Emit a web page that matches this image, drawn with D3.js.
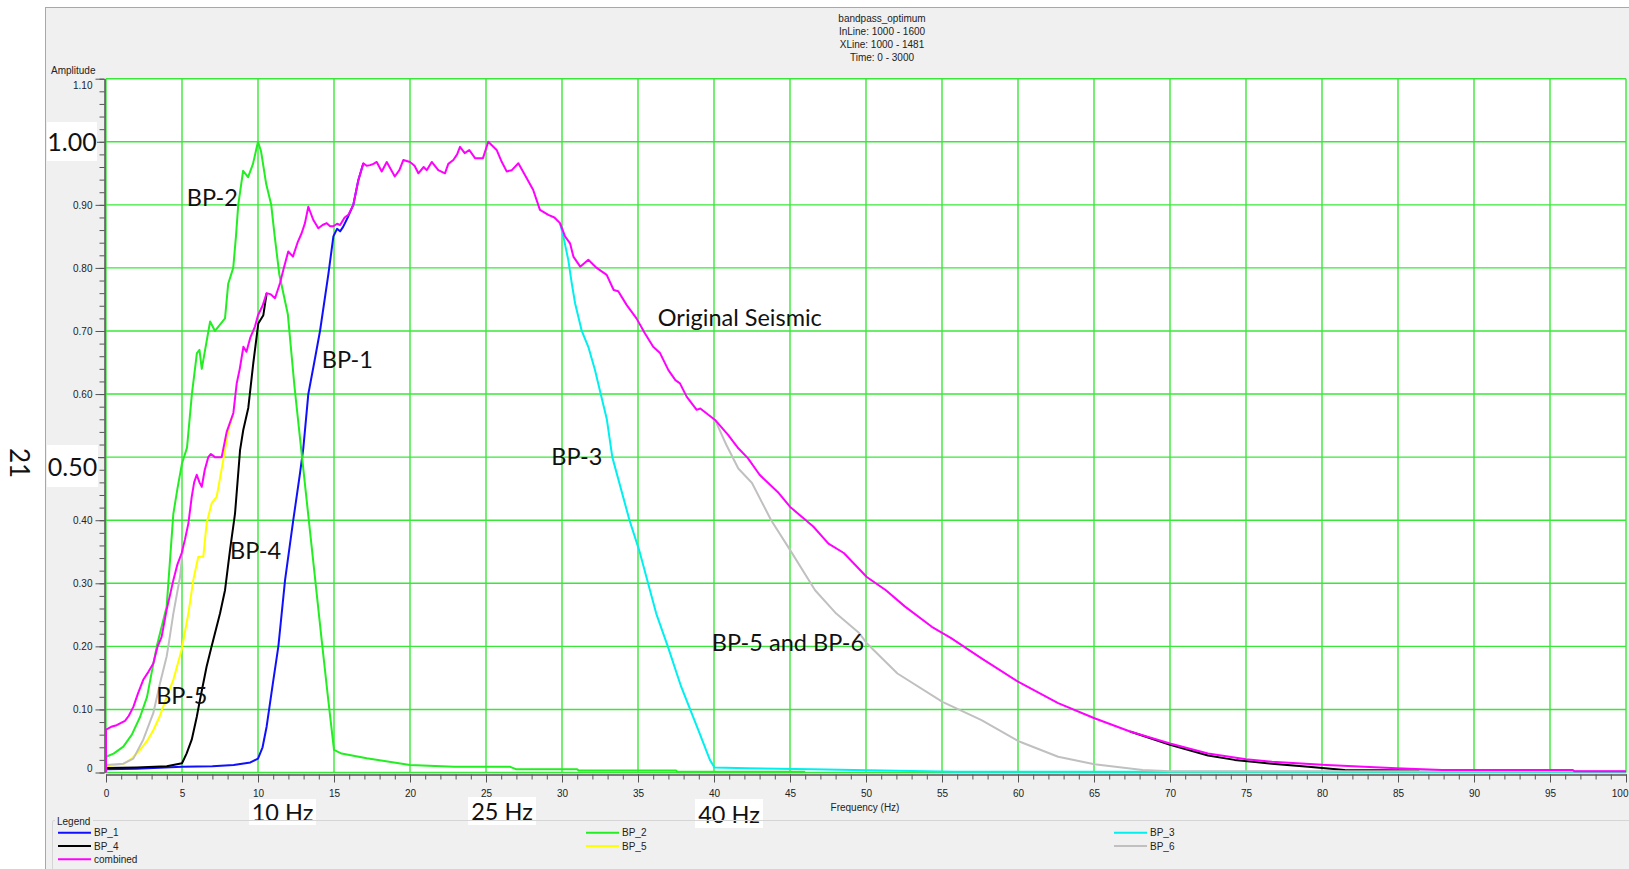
<!DOCTYPE html>
<meta charset="utf-8">
<script src="https://d3js.org/d3.v7.min.js"></script>
<style>
	body{ margin:0; background:#fff; }
	svg{ display:block; }
	.axis text{ font-family:"Liberation Sans", Arial, sans-serif; font-size:10px; fill:#222; }
	.axis path, .axis line{ stroke:#555; }
	.ui{ font-family:"Liberation Sans", Arial, sans-serif; font-size:10px; fill:#222; }
	.note{ font-family:Lato, "Open Sans", sans-serif; font-size:23.5px; fill:#111; }
</style>
<div id="chart"></div>
<script>

// amplitude spectra, [frequency Hz, amplitude]
// null = a gap where the curve hides under "combined"
var bp1 = [[0,0.005],[2,0.006],[5,0.009],[7,0.01],[8.4,0.012],[9.5,0.016],[10,0.022],[10.3,0.04],[10.57,0.073],[11.0,0.145],[11.34,0.2],[11.78,0.305],[12.32,0.4],[12.76,0.474],[12.98,0.514],[13.31,0.6],[13.7,0.65],[14.08,0.7],[14.63,0.79],[14.96,0.85],[15.2,0.862],[15.4,0.858],[15.6,0.865],[15.94,0.882],[16.27,0.9],[16.6,0.939],[16.93,0.966]]

var bp2 = [[0,0.025],[0.5,0.03],[1.14,0.041],[1.7,0.06],[2.24,0.088],[2.7,0.12],[3.0,0.158],[3.34,0.2],[3.99,0.263],[4.43,0.41],[4.7,0.45],[5.0,0.49],[5.33,0.515],[5.65,0.6],[5.98,0.665],[6.15,0.67],[6.3,0.64],[6.85,0.715],[7.17,0.7],[7.5,0.71],[7.83,0.72],[8.04,0.775],[8.37,0.8],[8.55,0.85],[8.7,0.9],[9.02,0.954],[9.35,0.944],[9.67,0.965],[10.0,1.0],[10.2,0.985],[10.54,0.933],[10.87,0.9],[11.1,0.85],[11.4,0.79],[11.96,0.727],[12.4,0.612],[12.83,0.515],[13.5,0.365],[14.19,0.21],[14.6,0.12],[15.0,0.036],[15.5,0.03],[17.15,0.0225],[20,0.012],[22.9,0.009],[26.6,0.009],[27,0.005],[31,0.005],[31.1,0.003],[37.5,0.003],[37.6,0.001],[46,0.001]]

var bp3 = [[29.87,0.871],[30.09,0.85],[30.41,0.813],[30.64,0.776],[30.86,0.744],[31.3,0.7],[31.73,0.675],[32.17,0.638],[32.5,0.605],[32.95,0.56],[33.31,0.5],[34.44,0.4],[35.07,0.353],[36.2,0.252],[36.96,0.2],[37.84,0.136],[38.97,0.067],[39.73,0.02],[40.03,0.008],[42.24,0.0066],[46.4,0.005],[55.84,0.0013],[100,0.001]]

var bp4 = [[0,0.007],[2,0.008],[4,0.01],[5,0.0146],[5.3,0.03],[5.64,0.052],[5.97,0.088],[6.18,0.115],[6.62,0.168],[6.95,0.2],[7.5,0.252],[7.83,0.289],[8.16,0.353],[8.49,0.411],[8.82,0.511],[9.03,0.543],[9.36,0.578],[9.69,0.649],[10.02,0.712],[10.35,0.725],[10.57,0.76],null,[67.37,0.065],[70,0.044],[72.5,0.027],[74.25,0.02],[76.7,0.014],[79.1,0.009],[81.5,0.004],[86.4,0.003]]

var bp5 = [[0,0.01],[1.14,0.0135],[1.7,0.022],[2.24,0.036],[2.7,0.05],[3.11,0.067],[3.55,0.09],[3.99,0.12],[4.43,0.147],[4.98,0.195],[5.42,0.252],[5.74,0.305],[6.07,0.342],[6.4,0.342],[6.62,0.395],[6.95,0.427],[7.28,0.437],[7.72,0.496],[8.05,0.543],[8.38,0.57]]

var bp6 = [[0,0.012],[1.14,0.014],[1.8,0.022],[2.45,0.052],[3.11,0.094],[3.55,0.141],[3.99,0.184],[4.1,0.2],[4.43,0.252],[4.87,0.31],[5.05,0.355],null,[40.07,0.559],[40.8,0.52],[41.6,0.482],[42.5,0.459],[43.76,0.4],[45.0,0.353],[46.65,0.289],[48.04,0.252],[49.55,0.221],[50.05,0.205],[52.07,0.157],[55.03,0.112],[57.6,0.083],[60,0.05],[62.64,0.025],[65.03,0.013],[68.2,0.004],[70,0.002],[100,0.002]]

var combined = [[0,0],[0,0.068],[0.4,0.073],[0.7,0.075],[1.25,0.082],[1.5,0.09],[1.8,0.104],[2.1,0.125],[2.45,0.147],[2.8,0.16],[3.11,0.173],[3.4,0.2],[3.66,0.215],[3.99,0.258],[4.2,0.28],[4.43,0.305],[4.7,0.33],[4.98,0.348],[5.2,0.37],[5.42,0.395],[5.64,0.437],[5.8,0.46],[5.97,0.472],[6.15,0.46],[6.3,0.453],[6.5,0.48],[6.73,0.5],[6.9,0.505],[7.17,0.5],[7.4,0.5],[7.61,0.5],[7.94,0.54],[8.38,0.57],[8.6,0.617],[8.8,0.64],[9.04,0.675],[9.24,0.667],[9.5,0.69],[9.8,0.707],[10.0,0.725],[10.3,0.74],[10.57,0.76],[10.85,0.758],[11.12,0.752],[11.45,0.776],[11.7,0.8],[11.99,0.826],[12.3,0.818],[12.6,0.84],[12.87,0.855],[13.09,0.871],[13.31,0.897],[13.64,0.876],[13.97,0.863],[14.25,0.868],[14.52,0.871],[14.75,0.866],[14.96,0.866],[15.2,0.87],[15.4,0.868],[15.7,0.88],[15.94,0.884],[16.27,0.9],[16.6,0.939],[16.93,0.966],[17.15,0.962],[17.37,0.963],[17.6,0.965],[17.81,0.968],[18.14,0.953],[18.47,0.968],[18.7,0.958],[19.0,0.945],[19.3,0.955],[19.56,0.971],[20.0,0.968],[20.3,0.962],[20.55,0.95],[20.9,0.96],[21.1,0.955],[21.43,0.968],[21.86,0.955],[22.3,0.95],[22.52,0.965],[22.85,0.971],[23.1,0.98],[23.29,0.992],[23.6,0.982],[23.9,0.987],[24.28,0.974],[24.8,0.974],[25.15,1.0],[25.7,0.987],[26.0,0.97],[26.36,0.953],[26.7,0.955],[27.13,0.966],[27.57,0.947],[28.1,0.924],[28.55,0.892],[28.77,0.889],[29.1,0.884],[29.5,0.88],[29.87,0.871],[30.2,0.85],[30.53,0.839],[30.75,0.818],[31.2,0.802],[31.73,0.813],[32.28,0.8],[32.94,0.789],[33.4,0.765],[33.7,0.763],[34.26,0.741],[34.9,0.72],[35.46,0.696],[36.0,0.675],[36.45,0.665],[37.0,0.638],[37.46,0.622],[37.76,0.617],[38.2,0.596],[38.86,0.575],[39.1,0.577],[40.07,0.559],[40.94,0.535],[41.6,0.514],[42.24,0.498],[43.0,0.472],[44.26,0.443],[45.01,0.421],[46.53,0.39],[47.53,0.363],[48.54,0.348],[50.05,0.31],[51.31,0.289],[52.57,0.263],[54.33,0.231],[55.6,0.213],[57.6,0.181],[60.0,0.144],[62.64,0.11],[65.03,0.086],[67.37,0.065],[70,0.046],[72.5,0.03],[75,0.021],[76.7,0.017],[80.3,0.012],[84.9,0.0067],[87.9,0.004],[96.5,0.004],[96.6,0.002],[100,0.002]]

var seriesNames = ["BP_1","BP_2","BP_3","BP_4","BP_5","BP_6","combined"]
var seriesColors = ["#1010ff","#22ee22","#00f0f0","#000000","#ffff00","#c0c0c0","#ff00ff"]
var seriesData = [bp1,bp2,bp3,bp4,bp5,bp6,combined]

var xTicks = d3.range(0,101,5)
var yTicks = [0,0.1,0.2,0.3,0.4,0.5,0.6,0.7,0.8,0.9,1.0,1.1]
// 0.50 and 1.00 are covered by the big pasted labels
var yTickLabels = ["0","0.10","0.20","0.30","0.40","","0.60","0.70","0.80","0.90","","1.10"]
var titleLines = ["bandpass_optimum","InLine: 1000 - 1600","XLine: 1000 - 1481","Time: 0 - 3000"]

// big hand-typed notes pasted on the screenshot
var notes = [
	{text:"BP-2", f:5.31, a:0.911},
	{text:"BP-1", f:14.2, a:0.654},
	{text:"BP-4", f:8.16, a:0.351},
	{text:"BP-5", f:3.3, a:0.121},
	{text:"Original Seismic", f:36.3, a:0.721},
	{text:"BP-3", f:29.3, a:0.5},
	{text:"BP-5 and BP-6", f:39.86, a:0.206}
]

const W = 1629, H = 869

const svg = d3.select("#chart")
  .append("svg")
    .attr("width", W)
    .attr("height", H)

var xScale = d3.scaleLinear().domain([0,100]).range([106,1626])
var yScale = d3.scaleLinear().domain([0,1.1]).range([772.5,78.7])

// grey window panel
svg.append("rect").attr("x",45).attr("y",7).attr("width",W-45).attr("height",H-7).attr("fill","#f0f0f0")
svg.append("line").attr("x1",45.5).attr("x2",45.5).attr("y1",7).attr("y2",H).attr("stroke","#a8a8a8")
svg.append("line").attr("x1",45).attr("x2",W).attr("y1",7.5).attr("y2",7.5).attr("stroke","#a8a8a8")

// title
svg.append("g").selectAll("text").data(titleLines).join("text")
	.attr("class","ui")
	.attr("x",882).attr("y",(d,i)=>18.3+i*13.1)
	.attr("dy","0.35em")
	.attr("text-anchor","middle")
	.text(d=>d)

// plot area
svg.append("rect")
	.attr("x",xScale(0)).attr("y",yScale(1.1))
	.attr("width",xScale(100)-xScale(0)).attr("height",yScale(0)-yScale(1.1))
	.attr("fill","#fff")

var grid = svg.append("g").attr("stroke","#38e838").attr("stroke-width",1.4)
grid.selectAll(".vg").data(xTicks).join("line")
	.attr("x1",d=>xScale(d)).attr("x2",d=>xScale(d))
	.attr("y1",yScale(1.1)).attr("y2",yScale(0))
grid.selectAll(".hg").data(yTicks).join("line")
	.attr("y1",d=>yScale(d)).attr("y2",d=>yScale(d))
	.attr("x1",xScale(0)).attr("x2",xScale(100))

// axes
var yAxis = d3.axisLeft(yScale).tickValues(yTicks).tickSize(9).tickSizeOuter(0).tickPadding(3)
	.tickFormat((d,i)=>yTickLabels[i])
var yMinor = d3.axisLeft(yScale).tickValues(d3.range(0,1.101,0.02)).tickSize(5).tickSizeOuter(0).tickFormat("")
var gy = svg.append("g").attr("class","axis").attr("transform","translate(104.5,0)").call(yAxis)
svg.append("g").attr("class","axis").attr("transform","translate(104.5,0)").call(yMinor)
// end labels are nudged inside, like the original
gy.selectAll(".tick text").attr("dy",(d,i)=> i==0 ? "-0.1em" : (i==yTicks.length-1 ? "0.95em" : "0.32em"))

var xAxis = d3.axisBottom(xScale).tickValues(xTicks).tickSize(8).tickSizeOuter(0).tickPadding(7)
var xMinor = d3.axisBottom(xScale).tickValues(d3.range(0,101,1)).tickSize(5).tickSizeOuter(0).tickFormat("")
var gx = svg.append("g").attr("class","axis").attr("transform","translate(0,774.5)").call(xAxis)
svg.append("g").attr("class","axis").attr("transform","translate(0,774.5)").call(xMinor)
gx.selectAll(".tick text").filter(d=>d==100).attr("text-anchor","end").attr("x",2)

svg.append("text").attr("class","ui").attr("x",51).attr("y",70).attr("dy","0.35em").text("Amplitude")
svg.append("text").attr("class","ui").attr("x",865).attr("y",807).attr("dy","0.35em").attr("text-anchor","middle").text("Frequency (Hz)")

// curves
var line = d3.line()
	.defined(d => d != null)
	.x(d => xScale(d[0]))
	.y(d => yScale(d[1]))

for (var s in seriesData){
	svg.append("path")
		.datum(seriesData[s])
		.attr("fill","none")
		.attr("stroke",seriesColors[s])
		.attr("stroke-width",2)
		.attr("stroke-linejoin","round")
		.attr("d",line)
}

// notes on the plot
svg.append("g").selectAll("text").data(notes).join("text")
	.attr("class","note")
	.attr("x",d=>xScale(d.f)).attr("y",d=>yScale(d.a))
	.attr("dy","0.35em")
	.text(d=>d.text)

// white boxes with big labels (pasted over the axes)
var boxes = [
	{text:"1.00", x:47, y:122, w:50, h:39, size:25},
	{text:"0.50", x:47, y:445, w:51, h:42, size:25},
	{text:"10 Hz", x:249, y:799, w:67, h:26, size:23.5},
	{text:"25 Hz", x:468, y:797, w:68, h:28, size:23.5},
	{text:"40 Hz", x:695, y:799, w:68, h:29, size:23.5}
]
var bx = svg.append("g").selectAll("g").data(boxes).join("g")
bx.append("rect").attr("x",d=>d.x).attr("y",d=>d.y).attr("width",d=>d.w).attr("height",d=>d.h).attr("fill","#fff")
bx.append("text").attr("class","note")
	.style("font-size",d=>d.size+"px")
	.attr("x",d=>d.x+d.w/2).attr("y",d=>d.y+d.h/2+1)
	.attr("dy","0.35em").attr("text-anchor","middle")
	.text(d=>d.text)

svg.append("text").attr("class","note").style("font-size","26px")
	.attr("transform","translate(19,463) rotate(90)")
	.attr("dy","0.35em").attr("text-anchor","middle")
	.text("21")

// legend group box
svg.append("path").attr("d","M52.5,869 V822 Q52.5,820.5 54,820.5 H"+W).attr("fill","none").attr("stroke","#d5d5d5")
svg.append("rect").attr("x",55).attr("y",815).attr("width",38).attr("height",12).attr("fill","#f0f0f0")
svg.append("text").attr("class","ui").attr("x",57).attr("y",821.5).attr("dy","0.35em").text("Legend")

var leg = svg.append("g").selectAll("g").data(seriesNames).join("g")
	.attr("transform",(d,i)=>"translate("+(58+(i%3)*528)+","+(832.7+Math.floor(i/3)*13.3)+")")
leg.append("line").attr("x1",0).attr("x2",33).attr("stroke",(d,i)=>seriesColors[i]).attr("stroke-width",2)
leg.append("text").attr("class","ui").attr("x",36).attr("dy","0.35em").text(d=>d)

</script>
